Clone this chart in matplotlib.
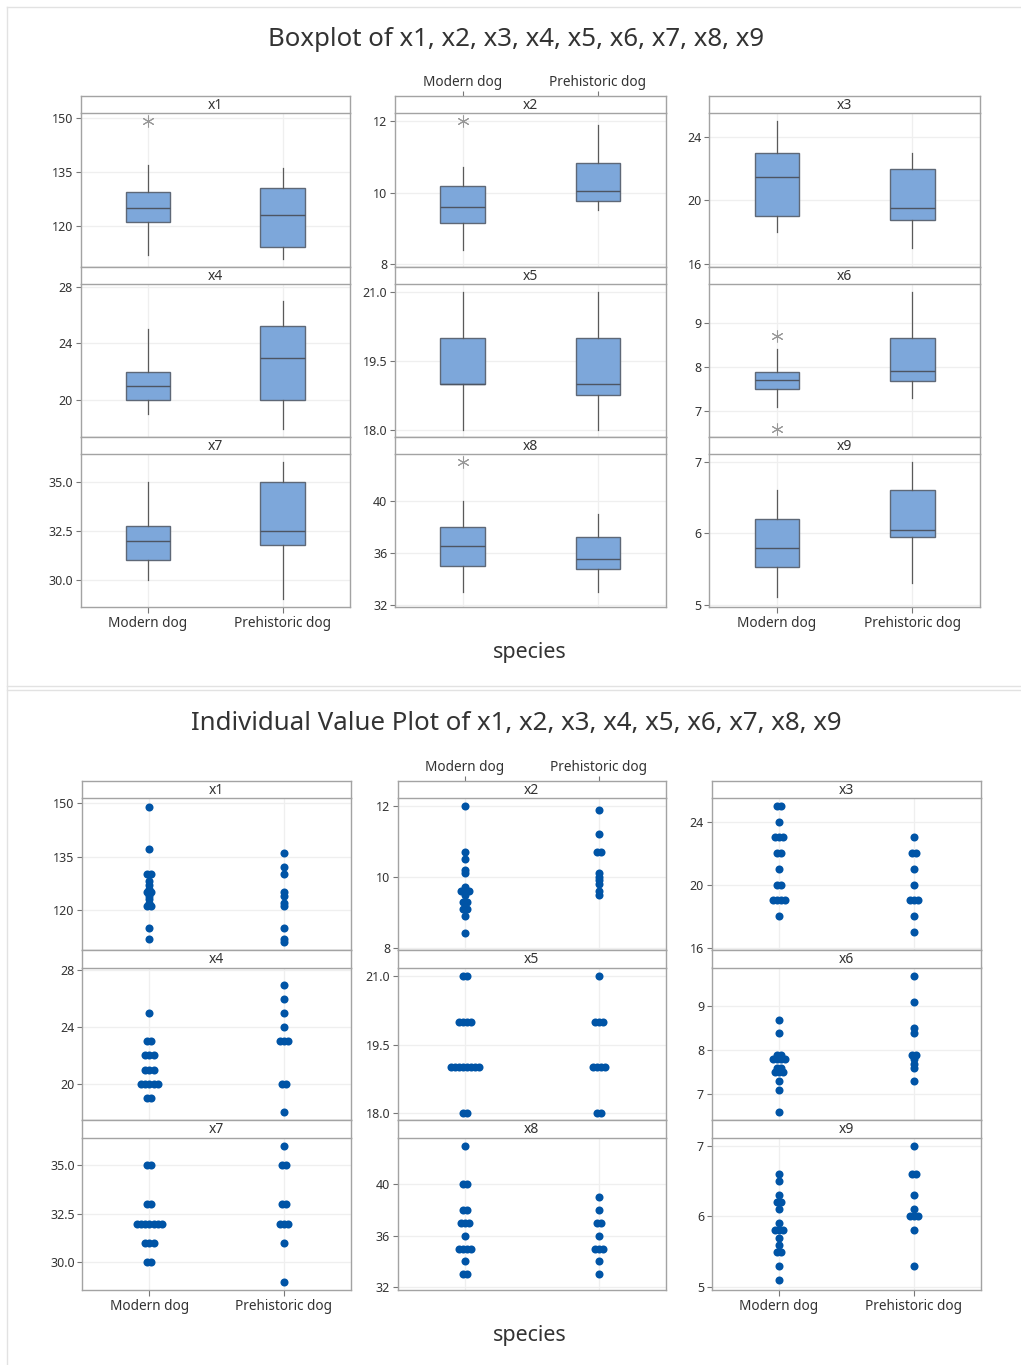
import numpy as np
import matplotlib
matplotlib.use("Agg")
import matplotlib.pyplot as plt
from matplotlib.lines import Line2D

plt.rcParams['font.family'] = ['Noto Sans', 'DejaVu Sans']

# ---------------- data ----------------
species = ["Modern dog", "Prehistoric dog"]
variables = ["x1", "x2", "x3", "x4", "x5", "x6", "x7", "x8", "x9"]

x1_modern = [123, 137, 121, 130, 149, 125, 126, 125, 121, 122, 115, 112, 124, 128, 130, 127]
x1_prehistoric = [112, 115, 136, 111, 130, 125, 132, 121, 122, 124]
x2_modern = [10.1, 9.6, 10.2, 10.7, 12.0, 9.5, 9.1, 9.7, 9.6, 8.9, 9.3, 9.1, 9.3, 9.6, 8.4, 10.5]
x2_prehistoric = [10.1, 10.0, 11.9, 9.9, 11.2, 10.7, 9.6, 10.7, 9.8, 9.5]
x3_modern = [23, 19, 18, 24, 25, 23, 20, 19, 22, 20, 19, 19, 21, 22, 23, 25]
x3_prehistoric = [17, 18, 22, 19, 23, 19, 19, 21, 20, 22]
x4_modern = [23, 22, 21, 22, 25, 20, 22, 19, 20, 20, 19, 20, 21, 21, 20, 23]
x4_prehistoric = [18, 23, 25, 20, 27, 26, 20, 23, 23, 24]
x5_modern = [19, 19, 21, 20, 21, 20, 19, 19, 18, 19, 20, 19, 18, 19, 19, 20]
x5_prehistoric = [19, 20, 21, 18, 20, 19, 19, 19, 18, 20]
x6_modern = [7.8, 7.8, 7.9, 7.9, 8.4, 7.8, 7.5, 7.5, 7.6, 7.6, 7.8, 6.6, 7.1, 7.5, 7.3, 8.7]
x6_prehistoric = [7.7, 7.8, 8.5, 7.3, 9.1, 8.4, 9.7, 7.9, 7.9, 7.6]
x7_modern = [32, 32, 35, 32, 35, 33, 32, 32, 31, 31, 33, 30, 30, 32, 31, 32]
x7_prehistoric = [31, 33, 36, 29, 35, 33, 35, 32, 32, 32]
x8_modern = [33, 40, 38, 37, 43, 37, 35, 37, 35, 35, 34, 33, 36, 38, 40, 35]
x8_prehistoric = [33, 36, 39, 34, 35, 37, 38, 35, 35, 37]
x9_modern = [5.6, 5.8, 6.2, 5.9, 6.6, 6.3, 5.5, 6.2, 5.3, 5.7, 6.5, 5.1, 5.5, 5.8, 5.8, 6.1]
x9_prehistoric = [5.8, 6.0, 7.0, 5.3, 6.6, 6.3, 6.6, 6.0, 6.1, 6.0]

yticks_x1 = [120, 135, 150]
yticks_x2 = [8, 10, 12]
yticks_x3 = [16, 20, 24]
yticks_x4 = [20, 24, 28]
yticks_x5 = [18.0, 19.5, 21.0]
yticks_x6 = [7, 8, 9]
yticks_x7 = [30.0, 32.5, 35.0]
yticks_x8 = [32, 36, 40]
yticks_x9 = [5, 6, 7]

data = {
    "x1": (x1_modern, x1_prehistoric), "x2": (x2_modern, x2_prehistoric),
    "x3": (x3_modern, x3_prehistoric), "x4": (x4_modern, x4_prehistoric),
    "x5": (x5_modern, x5_prehistoric), "x6": (x6_modern, x6_prehistoric),
    "x7": (x7_modern, x7_prehistoric), "x8": (x8_modern, x8_prehistoric),
    "x9": (x9_modern, x9_prehistoric),
}
yticks = {"x1": yticks_x1, "x2": yticks_x2, "x3": yticks_x3, "x4": yticks_x4,
          "x5": yticks_x5, "x6": yticks_x6, "x7": yticks_x7, "x8": yticks_x8,
          "x9": yticks_x9}
tickfmt = {"x5": "{:.1f}", "x7": "{:.1f}"}

# ---------------- layout ----------------
W, H = 1021, 1365
ylims = {"x1": (108.8, 151.4), "x2": (7.93, 12.23), "x3": (15.85, 25.5),
         "x4": (17.44, 28.2), "x5": (17.85, 21.19), "x6": (6.42, 9.885),
         "x7": (28.6, 36.44), "x8": (31.82, 43.64), "x9": (4.965, 7.115)}

TXT = '#333333'
SPINE = '#a3a3a3'
GRID = '#efefef'

fig = plt.figure(figsize=(W / 100, H / 100), dpi=100)
fig.patch.set_facecolor('white')


def rect(x0, y0, x1, y1):
    return [x0 / W, 1 - y1 / H, (x1 - x0) / W, (y1 - y0) / H]


def box_stats(vals):
    v = np.asarray(vals, float)
    q1, med, q3 = np.percentile(v, [25, 50, 75], method='weibull')
    iqr = q3 - q1
    lo_f, hi_f = q1 - 1.5 * iqr, q3 + 1.5 * iqr
    inside = v[(v >= lo_f) & (v <= hi_f)]
    return dict(q1=q1, med=med, q3=q3, whislo=inside.min(), whishi=inside.max(),
                fliers=v[(v < lo_f) | (v > hi_f)])


def jitter(vals, step=0.030):
    v = np.asarray(vals, float)
    off = np.zeros_like(v)
    for u in np.unique(v):
        idx = np.where(np.isclose(v, u))[0]
        c = len(idx)
        off[idx] = (np.arange(c) - (c - 1) / 2) * step
    return off


def draw_half(kind, cols, strip_tops, bottoms, strip_h, title, title_y,
              species_y):
    fig.text(516 / W, 1 - title_y / H, title, ha='center', va='center',
             fontsize=18.6, color=TXT)
    fig.text(530 / W, 1 - species_y / H, "species", ha='center', va='center',
             fontsize=15.5, color=TXT)
    for i, var in enumerate(variables):
        r, c = divmod(i, 3)
        x0, x1 = cols[c]
        st = strip_tops[r]
        ax = fig.add_axes(rect(x0, st + strip_h, x1, bottoms[r]))
        m, p = data[var]
        if kind == 'box':
            stats = [box_stats(m), box_stats(p)]
            ax.bxp(stats, positions=[1, 2], widths=0.33, patch_artist=True,
                   showcaps=False, manage_ticks=False,
                   boxprops=dict(facecolor='#7da7da', edgecolor='#5e6877', lw=1.0),
                   medianprops=dict(color='#4d5563', lw=1.0),
                   whiskerprops=dict(color='#5a5a5a', lw=0.9),
                   flierprops=dict(marker=(6, 2, 0), markeredgecolor='#999999',
                                   markerfacecolor='none', markersize=8.5,
                                   markeredgewidth=0.75))
        else:
            for pos, vals in zip([1, 2], [m, p]):
                ax.plot(pos + jitter(vals), vals, 'o', color='#0054a6',
                        markersize=5.8, markeredgewidth=0, zorder=3)
        ax.set_xlim(0.5, 2.5)
        ax.set_ylim(*ylims[var])
        ax.set_axisbelow(True)
        ax.grid(True, color=GRID, lw=0.9)
        for s in ax.spines.values():
            s.set_color(SPINE)
            s.set_linewidth(1.0)
        ax.spines['top'].set_visible(False)
        ax.set_yticks(yticks[var])
        fmt = tickfmt.get(var, "{:g}")
        ax.set_yticklabels([fmt.format(t) for t in yticks[var]])
        ax.tick_params(axis='y', length=3.5, width=0.8, color='#777777',
                       labelsize=9, labelcolor=TXT, pad=2)
        ax.set_xticks([1, 2])
        if r == 2 and c != 1:
            ax.set_xticklabels(species)
            ax.tick_params(axis='x', length=4, width=0.8, color='#777777',
                           labelsize=9.8, labelcolor=TXT, pad=2.8)
        else:
            ax.set_xticklabels([])
            ax.tick_params(axis='x', length=0)

        # strip
        sax = fig.add_axes(rect(x0, st, x1, st + strip_h))
        sax.set_xlim(0.5, 2.5)
        sax.set_ylim(0, 1)
        sax.set_facecolor('white')
        for s in sax.spines.values():
            s.set_color(SPINE)
            s.set_linewidth(1.0)
        sax.set_yticks([])
        sax.text(1.5, 0.45, var, ha='center', va='center', fontsize=10,
                 color=TXT)
        if r == 0 and c == 1:
            sax.xaxis.tick_top()
            sax.set_xticks([1, 2])
            sax.set_xticklabels(species)
            sax.tick_params(axis='x', length=3.5, width=0.8, color='#777777',
                            labelsize=9.8, labelcolor=TXT, pad=0.4)
        else:
            sax.set_xticks([])


# Boxplot half
draw_half('box',
          cols=[(80.5, 350), (395, 665.5), (709.3, 980)],
          strip_tops=[95.5, 266.5, 436.5], bottoms=[266.5, 436.5, 607],
          strip_h=17.3, title="Boxplot of x1, x2, x3, x4, x5, x6, x7, x8, x9",
          title_y=40, species_y=652)

# Individual value plot half
draw_half('ivp',
          cols=[(82.3, 351), (397.7, 665.7), (711.7, 981)],
          strip_tops=[780.5, 950, 1120], bottoms=[950, 1120, 1289.5],
          strip_h=17.5,
          title="Individual Value Plot of x1, x2, x3, x4, x5, x6, x7, x8, x9",
          title_y=723.5, species_y=1336)

# frame / separator lines
for (xa, xb, ya, yb) in [(7, W, 7, 7), (7, 7, 7, H), (7, W, 686, 686),
                         (7, W, 690, 690)]:
    fig.add_artist(Line2D([xa / W, xb / W], [1 - ya / H, 1 - yb / H],
                          color='#e2e2e2', lw=1.0, transform=fig.transFigure))

fig.savefig("out.png", dpi=100, facecolor='white')
